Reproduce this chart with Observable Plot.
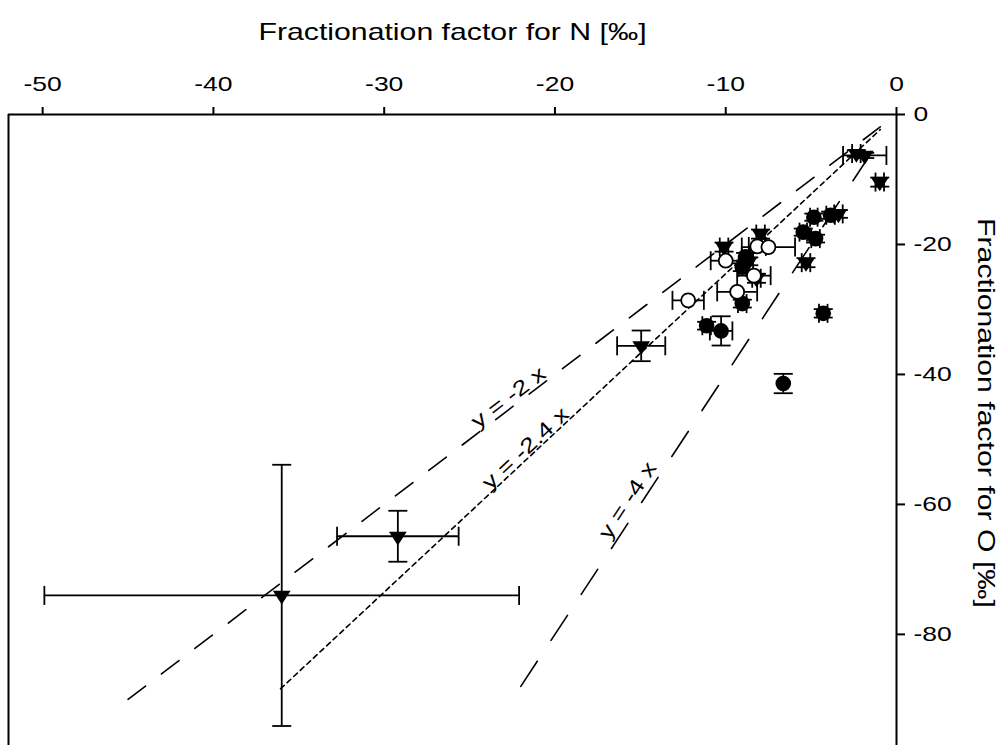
<!DOCTYPE html>
<html>
<head>
<meta charset="utf-8">
<script src="https://cdn.jsdelivr.net/npm/d3@7"></script>
<script src="https://cdn.jsdelivr.net/npm/@observablehq/plot@0.6"></script>
<style>
  html, body { margin: 0; padding: 0; background: #fff; }
  #chart svg { display: block; }
</style>
</head>
<body>
<div id="chart"></div>
<script>
// Axis ticks and extents
const xTicks = [-50, -40, -30, -20, -10, 0];
const yTicks = [0, -20, -40, -60, -80];
const xDomain = [-52, 0];
const yDomain = [-97.1, 0];
const xTitle = "Fractionation factor for N [‰]";
const yTitle = "Fractionation factor for O [‰]";

// Filled triangles: value and ± error
const triX    = [-36.0, -29.2, -14.95, -1.86, -2.35, -0.98, -3.4, -5.3, -7.96, -10.1, -8.65, -8.2];
const triY    = [-74.0, -64.9, -35.6, -6.3, -6.0, -10.4, -15.3, -22.8, -18.4, -20.4, -22.6, -25.2];
const triXErr = [13.9, 3.56, 1.41, 1.27, 0.25, 0.25, 0.25, 0.25, 0.25, 0.25, 0.25, 0.25];
const triYErr = [20.1, 3.92, 2.36, 0.4, 0.5, 0.7, 0.6, 0.7, 0.7, 0.7, 0.6, 0.7];

// Filled circles
const dotX    = [-6.63, -10.27, -11.12, -4.29, -9.03, -5.46, -4.74, -4.84, -3.86, -8.84, -9.03];
const dotY    = [-41.4, -33.3, -32.5, -30.6, -29.1, -18.1, -19.1, -15.8, -15.5, -21.9, -23.5];
const dotXErr = [0, 0.66, 0.25, 0.25, 0.25, 0.22, 0.25, 0.22, 0.25, 0.22, 0.22];
const dotYErr = [1.49, 2.25, 0.6, 0.65, 0.6, 0.55, 0.6, 0.55, 0.55, 0.6, 0.6];

// Open circles
const ringX    = [-12.2, -10.0, -9.33, -8.35, -8.15, -7.5];
const ringY    = [-28.6, -22.5, -27.3, -24.8, -20.3, -20.4];
const ringXErr = [0.92, 0.88, 1.17, 0.98, 0.5, 1.56];
const ringYErr = [0, 0, 0, 0, 0, 0];

// Reference lines through the origin
const guideSlopes = [2, 2.45, 4];
const guideFrom   = [-45, -36.07, -22];
const guideTo     = [-0.95, -0.95, -0.95];
const guideDash   = ["22,20", "5,4", "30,25"];
const guideLabels = ["y = -2 x", "y = -2.4 x", "y = -4 x"];
const guideLabelX = [-22.72, -21.73, -15.75];
const guideLabelY = [-43.55, -51.4, -59.4];

const W = 1003, H = 745;
const margin = {top: 114, right: 107, bottom: 0, left: 8};
const pxPerX = (W - margin.left - margin.right) / (xDomain[1] - xDomain[0]);
const pxPerY = (H - margin.top - margin.bottom) / (yDomain[1] - yDomain[0]);

const rows = (xs, ys, xe, ye) => xs.map((x, i) => ({x, y: ys[i], xe: xe[i], ye: ye[i]}));
const tris = rows(triX, triY, triXErr, triYErr);
const dots = rows(dotX, dotY, dotXErr, dotYErr);
const rings = rows(ringX, ringY, ringXErr, ringYErr);
const all = [...dots, ...tris, ...rings];
const withYErr = all.filter(d => d.ye > 0);
const withXErr = all.filter(d => d.xe > 0);

const guides = guideSlopes.map((k, i) => ({
  k, dash: guideDash[i],
  pts: [{x: guideFrom[i], y: k * guideFrom[i]}, {x: guideTo[i], y: k * guideTo[i]}],
  label: guideLabels[i], lx: guideLabelX[i], ly: guideLabelY[i],
  angle: -Math.atan(k * pxPerY / pxPerX) * 180 / Math.PI
}));

// Custom symbols: downward triangle and error-bar caps
const CAP = 9.5;
const downTriangle = {draw(ctx) { ctx.moveTo(-8.9, -4.6); ctx.lineTo(8.9, -4.6); ctx.lineTo(0, 9.2); ctx.closePath(); }};
const hCap = {draw(ctx) { ctx.moveTo(-CAP, 0); ctx.lineTo(CAP, 0); }};
const vCap = {draw(ctx) { ctx.moveTo(0, -CAP); ctx.lineTo(0, CAP); }};

const SW = 1.8;
const marks = [
  // plot border (top, left, right)
  Plot.ruleY([yDomain[1]], {stroke: "black", strokeWidth: 2}),
  Plot.ruleX([xDomain[0]], {stroke: "black", strokeWidth: 2}),
  Plot.ruleX([xDomain[1]], {stroke: "black", strokeWidth: 2}),
  Plot.axisX({anchor: "top", ticks: xTicks, tickSize: 8, tickPadding: 16, tickFormat: d => String(d), label: null, strokeWidth: 2}),
  Plot.axisY({anchor: "right", ticks: yTicks, tickSize: 8, tickPadding: 9, tickFormat: d => String(d), label: null, strokeWidth: 2}),
  // reference lines
  ...guides.map(g => Plot.line(g.pts, {x: "x", y: "y", stroke: "black", strokeWidth: 1.6, strokeDasharray: g.dash})),
  Plot.text(guides, {x: "lx", y: "ly", text: "label", rotate: "angle", textAnchor: "middle", lineAnchor: "middle", fontSize: 21}),
  // vertical error bars
  Plot.ruleX(withYErr, {x: "x", y1: d => d.y - d.ye, y2: d => d.y + d.ye, stroke: "black", strokeWidth: SW}),
  Plot.dot(withYErr, {x: "x", y: d => d.y - d.ye, symbol: hCap, stroke: "black", strokeWidth: SW}),
  Plot.dot(withYErr, {x: "x", y: d => d.y + d.ye, symbol: hCap, stroke: "black", strokeWidth: SW}),
  // horizontal error bars
  Plot.ruleY(withXErr, {y: "y", x1: d => d.x - d.xe, x2: d => d.x + d.xe, stroke: "black", strokeWidth: SW}),
  Plot.dot(withXErr, {x: d => d.x - d.xe, y: "y", symbol: vCap, stroke: "black", strokeWidth: SW}),
  Plot.dot(withXErr, {x: d => d.x + d.xe, y: "y", symbol: vCap, stroke: "black", strokeWidth: SW}),
  // markers
  Plot.dot(dots, {x: "x", y: "y", r: 7.8, fill: "black", stroke: "none"}),
  Plot.dot(tris, {x: "x", y: "y", symbol: downTriangle, fill: "black", stroke: "none"}),
  Plot.dot(rings, {x: "x", y: "y", r: 7, fill: "white", stroke: "black", strokeWidth: SW}),
  // axis titles
  Plot.text([xTitle], {text: d => d, frameAnchor: "top", dy: -82, textAnchor: "middle", lineAnchor: "middle", fontSize: 24}),
  Plot.text([yTitle], {text: d => d, frameAnchor: "right", dx: 89, dy: -17, rotate: 90, textAnchor: "middle", lineAnchor: "middle", fontSize: 24})
];

const chart = Plot.plot({
  width: W,
  height: H,
  marginTop: margin.top,
  marginRight: margin.right,
  marginBottom: margin.bottom,
  marginLeft: margin.left,
  x: {domain: xDomain, axis: null},
  y: {domain: yDomain, axis: null},
  style: {fontFamily: "'Liberation Sans', Arial, sans-serif", fontSize: "21px", color: "black", background: "white", overflow: "visible"},
  marks
});
document.getElementById("chart").appendChild(chart);

// Widen the lettering along its reading direction
chart.querySelectorAll("text").forEach(t => {
  const len = t.getComputedTextLength();
  if (len > 0) {
    t.setAttribute("textLength", (len * 1.26).toFixed(1));
    t.setAttribute("lengthAdjust", "spacingAndGlyphs");
  }
});
</script>
</body>
</html>
